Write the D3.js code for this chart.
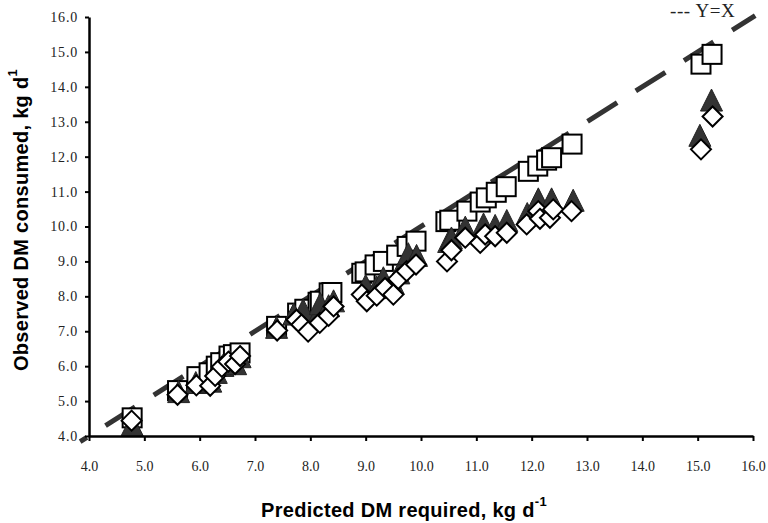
<!DOCTYPE html>
<html>
<head>
<style>
body { margin: 0; background: #fff; }
svg { display: block; }
.title { font-family: "Liberation Sans", Arial, sans-serif; font-weight: bold; font-size: 20px; fill: #000; }
</style>
</head>
<body>
<script src="https://d3js.org/d3.v7.min.js"></script>
<script>
const W = 768, H = 523;
const margin = {top: 17, right: 15, bottom: 87, left: 89};

const xTicks = [4, 5, 6, 7, 8, 9, 10, 11, 12, 13, 14, 15, 16];
const yTicks = [4, 5, 6, 7, 8, 9, 10, 11, 12, 13, 14, 15, 16];

// open squares
const squares = [
  [4.78,4.52],[5.6,5.3],[5.95,5.7],[6.17,5.81],[6.3,6.0],[6.38,6.1],[6.53,6.29],[6.61,6.33],[6.73,6.38],
  [7.39,7.14],[7.77,7.52],[7.9,7.63],[8.14,7.83],[8.18,7.86],[8.34,8.1],[8.39,8.11],
  [8.93,8.66],[8.99,8.7],[9.17,8.9],[9.32,9.0],[9.56,9.18],[9.75,9.43],[9.91,9.58],
  [10.45,10.14],[10.52,10.18],[10.83,10.44],[11.07,10.7],[11.18,10.82],[11.36,10.98],[11.54,11.14],
  [11.94,11.58],[12.11,11.73],[12.27,11.9],[12.36,11.97],[12.73,12.36],
  [15.06,14.65],[15.26,14.93]
];

// filled triangles
const triangles = [
  [4.78,4.35],[5.62,5.3],[5.93,5.56],[6.2,5.6],[6.3,5.85],[6.42,6.05],[6.55,6.15],[6.65,6.1],[6.73,6.3],
  [7.39,7.14],[7.7,7.52],[7.87,7.64],[8.14,7.52],[8.18,7.82],[8.33,7.76],[8.42,7.9],
  [9.0,8.34],[9.2,8.3],[9.32,8.56],[9.5,8.4],[9.6,8.7],[9.77,9.25],[9.92,9.2],
  [10.5,9.6],[10.55,9.7],[10.8,10.01],[11.13,10.1],[11.34,10.06],[11.55,10.2],[11.92,10.4],
  [12.12,10.82],[12.36,10.82],[12.75,10.78],
  [15.04,12.64],[15.25,13.65]
];

// open diamonds
const diamonds = [
  [4.77,4.44],[5.6,5.18],[5.94,5.45],[6.19,5.44],[6.28,5.72],[6.4,5.98],[6.52,6.13],[6.64,6.06],[6.73,6.29],
  [7.4,7.02],[7.75,7.33],[7.84,7.19],[7.96,6.99],[8.17,7.24],[8.33,7.44],[8.42,7.71],
  [8.93,8.05],[9.02,7.86],[9.2,8.02],[9.35,8.24],[9.5,8.05],[9.59,8.5],[9.74,8.72],[9.91,8.91],
  [10.47,9.0],[10.55,9.32],[10.8,9.68],[11.07,9.53],[11.16,9.77],[11.34,9.72],[11.55,9.82],
  [11.91,10.06],[12.12,10.44],[12.15,10.22],[12.33,10.25],[12.39,10.49],[12.72,10.44],
  [15.06,12.21],[15.27,13.15]
];

const lineEnds = [3.84, 16.04];

const svg = d3.select("body").append("svg")
  .attr("width", W)
  .attr("height", H);

const x = d3.scaleLinear().domain([4, 16]).range([margin.left, W - margin.right]);
const y = d3.scaleLinear().domain([4, 16]).range([H - margin.bottom, margin.top]);

// Y=X line
svg.append("line")
  .attr("x1", x(lineEnds[0])).attr("y1", y(lineEnds[0]))
  .attr("x2", x(lineEnds[1])).attr("y2", y(lineEnds[1]))
  .attr("stroke", "#333")
  .attr("stroke-width", 5)
  .attr("stroke-dasharray", "35,22")
  .attr("stroke-dashoffset", 27);

svg.append("g")
  .selectAll("rect")
  .data(squares)
  .enter()
  .append("rect")
  .attr("x", d => x(d[0]) - 9.5)
  .attr("y", d => y(d[1]) - 9.5)
  .attr("width", 19)
  .attr("height", 19)
  .attr("fill", "#fff")
  .attr("stroke", "#000")
  .attr("stroke-width", 2);

svg.append("g")
  .selectAll("path")
  .data(triangles)
  .enter()
  .append("path")
  .attr("transform", d => `translate(${x(d[0])},${y(d[1])})`)
  .attr("d", "M0,-10L11,12L-11,12Z")
  .attr("fill", "#333")
  .attr("stroke", "#222")
  .attr("stroke-width", 1);

svg.append("g")
  .selectAll("path")
  .data(diamonds)
  .enter()
  .append("path")
  .attr("transform", d => `translate(${x(d[0])},${y(d[1])})`)
  .attr("d", "M0,-10L10,0L0,10L-10,0Z")
  .attr("fill", "#fff")
  .attr("stroke", "#000")
  .attr("stroke-width", 2);

// axes
const xAxis = svg.append("g")
  .attr("transform", `translate(0,${H - margin.bottom})`)
  .call(d3.axisBottom(x).tickValues(xTicks).tickFormat(d3.format(".1f")).tickSize(5).tickSizeOuter(0).tickPadding(20));
const yAxis = svg.append("g")
  .attr("transform", `translate(${margin.left},0)`)
  .call(d3.axisLeft(y).tickValues(yTicks).tickFormat(d3.format(".1f")).tickSize(4).tickSizeOuter(0).tickPadding(7));

[xAxis, yAxis].forEach(a => {
  a.attr("font-family", "Liberation Serif").attr("font-size", 14);
  a.select(".domain").attr("stroke", "#000").attr("stroke-width", 2.5);
  a.selectAll(".tick line").attr("stroke", "#000").attr("stroke-width", 2);
  a.selectAll(".tick text")
    .attr("font-family", "Liberation Serif")
    .attr("font-size", 14)
    .attr("fill", "#222");
});
yAxis.selectAll(".tick text").attr("letter-spacing", 0.8);

// axis titles
const xt = svg.append("text")
  .attr("class", "title")
  .attr("x", 404)
  .attr("y", 517)
  .attr("letter-spacing", 0.3)
  .attr("text-anchor", "middle");
xt.append("tspan").text("Predicted DM required, kg d");
xt.append("tspan").attr("dy", -11).attr("font-size", 13).text("-1");

const yt = svg.append("text")
  .attr("class", "title")
  .attr("transform", "translate(28,220) rotate(-90)")
  .attr("letter-spacing", 0.3)
  .attr("text-anchor", "middle");
yt.append("tspan").text("Observed DM consumed, kg d");
yt.append("tspan").attr("dy", -11).attr("font-size", 13).text("1");

// legend
svg.append("text")
  .attr("x", 670)
  .attr("y", 17)
  .attr("font-family", "Liberation Serif")
  .attr("font-size", 19)
  .attr("letter-spacing", 0.6)
  .attr("fill", "#222")
  .text("--- Y=X");
</script>
</body>
</html>
